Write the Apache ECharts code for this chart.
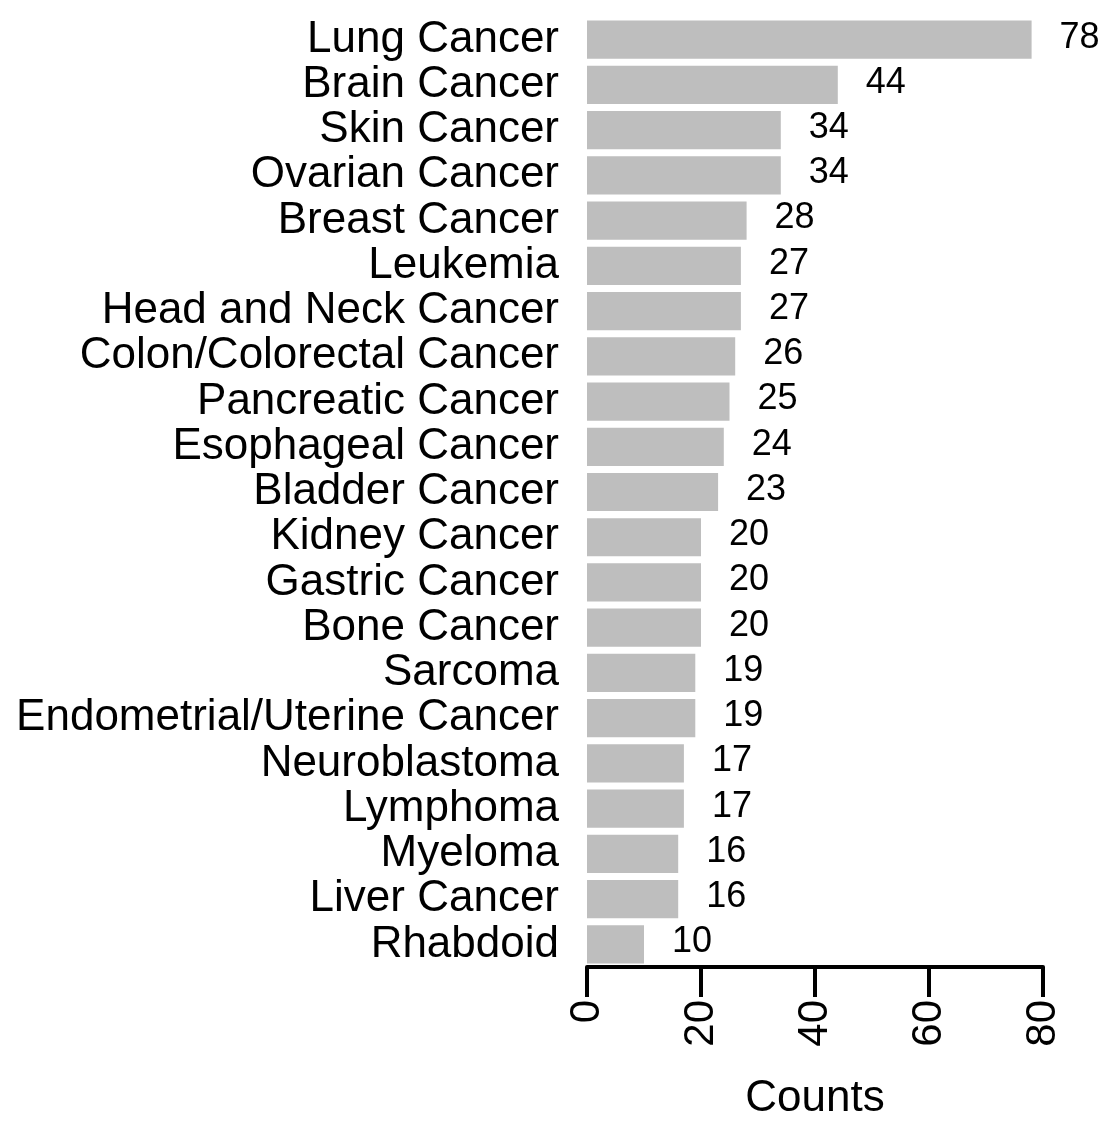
<!DOCTYPE html>
<html>
<head>
<meta charset="utf-8">
<script src="https://cdn.jsdelivr.net/npm/echarts@6/dist/echarts.min.js"></script>
<style>
html,body{margin:0;padding:0;background:#fff;}
#chart{width:1106px;height:1125px;}
</style>
</head>
<body>
<div id="chart"></div>
<script>
const categories = ["Lung Cancer","Brain Cancer","Skin Cancer","Ovarian Cancer","Breast Cancer","Leukemia","Head and Neck Cancer","Colon/Colorectal Cancer","Pancreatic Cancer","Esophageal Cancer","Bladder Cancer","Kidney Cancer","Gastric Cancer","Bone Cancer","Sarcoma","Endometrial/Uterine Cancer","Neuroblastoma","Lymphoma","Myeloma","Liver Cancer","Rhabdoid"];
const counts = [78,44,34,34,28,27,27,26,25,24,23,20,20,20,19,19,17,17,16,16,10];
const xTicks = [0,20,40,60,80];
const axisTitle = "Counts";

const font = "'Liberation Sans', Arial, Helvetica, sans-serif";
const chart = echarts.init(document.getElementById('chart'), null, {renderer:'canvas'});
chart.setOption({
  animation:false,
  backgroundColor:'#ffffff',
  grid:{left:587, right:63, top:17, bottom:158, containLabel:false, outerBoundsMode:'none'},
  xAxis:{
    type:'value', min:xTicks[0], max:xTicks[xTicks.length-1], interval:20,
    name:axisTitle, nameLocation:'middle', nameGap:110,
    nameTextStyle:{fontSize:44, color:'#000', fontFamily:font},
    axisLine:{show:true, lineStyle:{color:'#000', width:4}},
    axisTick:{show:true, length:30, lineStyle:{color:'#000', width:4}},
    axisLabel:{show:true, rotate:90, margin:33, fontSize:42, color:'#000', fontFamily:font},
    splitLine:{show:false}
  },
  yAxis:{
    type:'category', data:categories, inverse:true,
    axisLine:{show:false}, axisTick:{show:false},
    axisLabel:{interval:0, fontSize:44, color:'#000', fontFamily:font, margin:28, padding:[6,0,0,0]}
  },
  series:[{
    type:'bar', data:counts, barCategoryGap:'15.5%',
    itemStyle:{color:'#BEBEBE'},
    label:{show:true, position:'right', distance:28, offset:[0,-2], fontSize:36, color:'#000', fontFamily:font}
  }]
});
</script>
</body>
</html>
